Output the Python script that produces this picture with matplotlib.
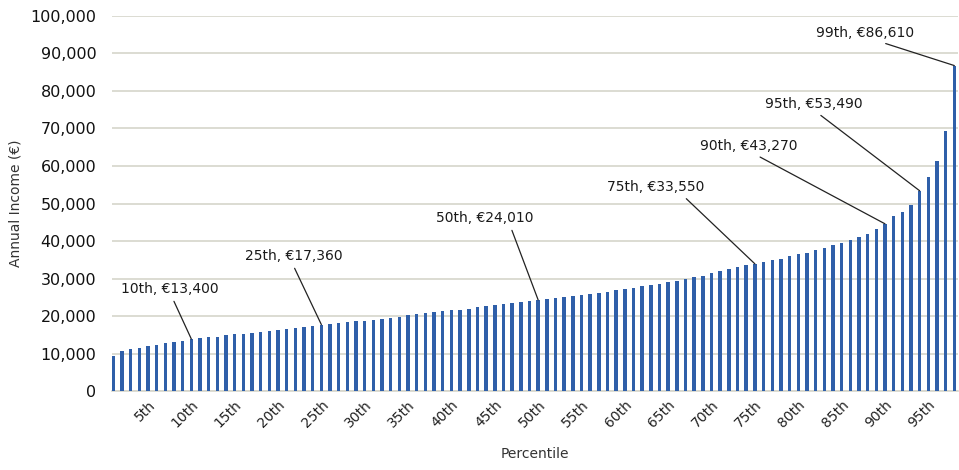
import matplotlib.pyplot as plt
from matplotlib.ticker import FuncFormatter

# income per bar (98 bars)
incomes = [
    9350, 10680, 11210, 11480, 12015, 12280, 12820, 13080, 13350, 13880,
    14150, 14420, 14420, 14950, 15220, 15220, 15490, 15750, 16020, 16290,
    16550, 16820, 17090, 17350, 17710, 17980, 18245, 18420, 18690, 18690,
    18960, 19220, 19490, 19760, 20290, 20560, 20830, 21090, 21360, 21630,
    21630, 21890, 22430, 22700, 22960, 23230, 23500, 23760, 24030, 24300,
    24560, 24830, 25100, 25365, 25630, 25900, 26170, 26430, 26970, 27230,
    27500, 28035, 28300, 28570, 29100, 29370, 29900, 30440, 30700, 31500,
    32040, 32570, 33110, 33640, 33910, 34440, 34980, 35240, 36045, 36580,
    36850, 37650, 38180, 38980, 39520, 40320, 41120, 41920, 43250, 44590,
    46720, 47790, 49660, 53400, 56960, 61410, 69240, 86780,
]
tick_pos = list(range(5, 96, 5))
tick_labels = [f"{p}th" for p in tick_pos]

# callouts: bar the leader line points to, and the label text
callout_bars = [10, 25, 50, 75, 90, 94, 98]
callout_text = ["10th, €13,400", "25th, €17,360", "50th, €24,010", "75th, €33,550",
                "90th, €43,270", "95th, €53,490", "99th, €86,610"]
# label centre (data coords) and where on the label box the line starts
callout_xy = [(7.49, 27200), (21.85, 36000), (43.82, 46140), (63.6, 54400),
              (74.27, 65340), (81.82, 76540), (87.65, 95480)]
callout_rel = [(0.52, 0.0), (0.48, 0.0), (0.76, 0.0), (0.76, 0.0),
               (0.54, 0.0), (0.51, 0.0), (0.6, 0.0)]

plt.rcParams['font.family'] = ['DejaVu Sans']

fig = plt.figure(figsize=(9.59, 4.70), dpi=100)
ax = fig.add_axes([0.1165, 0.168, 0.8825, 0.798])

x = list(range(1, len(incomes) + 1))
ax.bar(x, incomes, width=0.4, color='#2f5fa9', zorder=3)

ax.set_xlim(0.82, 98.43)
ax.set_ylim(0, 100000)
ax.set_yticks(range(0, 100001, 10000))
ax.yaxis.set_major_formatter(FuncFormatter(lambda v, p: f"{int(v):,}"))
ax.grid(axis='y', color='#d6d5cb', linewidth=1.2, zorder=0)
ax.set_axisbelow(True)
for s in ['top', 'right', 'left']:
    ax.spines[s].set_visible(False)
ax.spines['bottom'].set_color('#d6d5cb')
ax.spines['bottom'].set_linewidth(1.2)

ax.set_xticks(tick_pos)
ax.set_xticklabels(tick_labels, rotation=45, ha='right', rotation_mode='anchor',
                   fontsize=10, color='#222222')
ax.tick_params(axis='x', length=0, pad=5)
ax.tick_params(axis='y', length=0, pad=11, labelsize=11.5, labelcolor='#111111')

ax.set_ylabel("Annual Income (€)", fontsize=10, color='#333333', labelpad=6)
ax.set_xlabel("Percentile", fontsize=10, color='#333333', labelpad=12)

for b, txt, xy, rel in zip(callout_bars, callout_text, callout_xy, callout_rel):
    ax.annotate(txt, xy=(b, incomes[b - 1]), xytext=xy, ha='center', va='center',
                fontsize=10, color='#1a1a1a',
                arrowprops=dict(arrowstyle='-', color='#222222', lw=0.9,
                                relpos=rel, shrinkA=2, shrinkB=0))

fig.savefig('out.png', dpi=100)
